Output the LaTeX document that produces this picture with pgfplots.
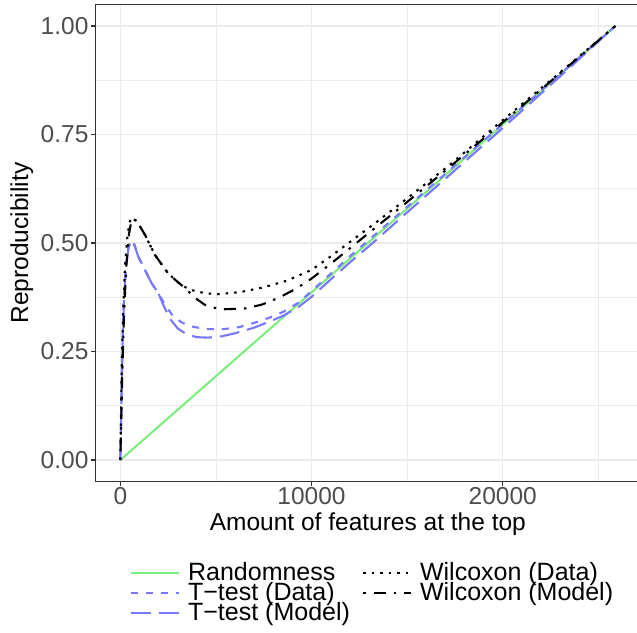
\documentclass[border=0pt]{standalone}
\usepackage{fontspec}
\setmainfont{Liberation Sans}
\usepackage{pgfplots}
\pgfplotsset{compat=1.18}
\definecolor{rgreen}{RGB}{119,238,119}
\definecolor{rblue}{RGB}{119,119,255}
\definecolor{gridc}{RGB}{235,235,235}
\definecolor{axc}{RGB}{51,51,51}
\definecolor{tickc}{RGB}{77,77,77}
\newcommand{\bigf}{\fontsize{24.5}{28}\selectfont}
\newcommand{\legf}{\fontsize{25}{28}\selectfont}
\begin{document}
\begin{tikzpicture}[x=1pt,y=1pt]
\begin{axis}[
  at={(95.6pt,150.3pt)}, anchor=south west,
  scale only axis, width=544.5pt, height=477.4pt,
  xmin=-1294.5, xmax=27184.5, ymin=-0.05, ymax=1.05,
  scaled x ticks=false, scaled y ticks=false,
  xtick={0,10000,20000}, xticklabels={0,10000,20000},
  minor xtick={5000,15000,25000},
  ytick={0,0.25,0.5,0.75,1}, yticklabels={0.00,0.25,0.50,0.75,1.00},
  minor ytick={0.125,0.375,0.625,0.875},
  grid=both,
  major grid style={gridc, line width=1.1pt},
  minor grid style={gridc, line width=0.55pt},
  axis line style={axc, line width=1.1pt},
  tick align=outside, major tick length=4.5pt, minor tick length=0pt,
  tick style={axc, line width=1.1pt},
  xtick pos=bottom, ytick pos=left,
  /pgf/number format/assume math mode=true,
  ticklabel style={font=\bigf, text=tickc, inner sep=0pt},
  yticklabel style={xshift=-2.5pt},
  xticklabel style={yshift=-0.8pt},
  xlabel={Amount of features at the top},
  ylabel={Reproducibility},
  label style={font=\bigf, text=black, inner sep=0pt},
  xlabel style={at={(axis description cs:0.5,-0.1012)}, anchor=base},
  ylabel style={at={(axis description cs:-0.1241,0.5)}, anchor=base, rotate=0},
  legend columns=2,
  legend cell align=left,
  legend style={at={(axis description cs:0.0632,-0.1745)}, anchor=north west,
    draw=none, fill=none, inner sep=0pt, outer sep=0pt, font=\legf,
    nodes={inner sep=0pt, text height=15pt, text depth=5pt},
    row sep=0pt,
    /tikz/every odd column/.append style={column sep=8pt},
    /tikz/every even column/.append style={column sep=12pt}},
  legend image code/.code={\draw[#1] (0pt,2.3pt) -- (48pt,2.3pt);},
]
% Randomness
\addplot[rgreen, line width=2pt, forget plot] coordinates {(0,0) (25890,1)};
% T-test (Data)
\addplot[rblue, line width=2.1pt, dash pattern=on 7pt off 8pt, forget plot] coordinates {
(0,0) (40,0.1) (80,0.2) (130,0.3) (200,0.39) (300,0.45) (420,0.49) (560,0.507)
(750,0.495) (950,0.468) (1300,0.437) (1650,0.407) (2000,0.383) (2300,0.36)
(2700,0.335) (3200,0.317) (3700,0.308) (4400,0.302) (5300,0.301) (6200,0.306)
(7000,0.316) (7800,0.328) (8500,0.341) (9300,0.362) (10000,0.389) (11000,0.429)
(12000,0.469) (14600,0.568) (17200,0.667) (20000,0.774) (23000,0.889) (25890,1)};
% T-test (Model)
\addplot[rblue, line width=2.1pt, dash pattern=on 20pt off 8pt, forget plot] coordinates {
(0,0) (40,0.09) (80,0.19) (130,0.29) (200,0.38) (300,0.445) (420,0.487) (560,0.505)
(750,0.493) (950,0.467) (1300,0.436) (1650,0.406) (2000,0.383) (2300,0.352)
(2600,0.325) (3000,0.303) (3500,0.289) (4000,0.283) (4600,0.282) (5300,0.285)
(6000,0.292) (7000,0.305) (7800,0.319) (8500,0.332) (9300,0.352) (10000,0.376)
(11000,0.416) (12000,0.455) (13300,0.504) (14600,0.555) (17200,0.656) (20000,0.765)
(23000,0.884) (25890,1)};
% Wilcoxon (Data)
\addplot[black, line width=2.1pt, dash pattern=on 2.5pt off 6pt, forget plot] coordinates {
(0,0) (40,0.12) (80,0.23) (150,0.35) (250,0.45) (380,0.52) (500,0.55) (620,0.559)
(800,0.552) (1000,0.54) (1300,0.518) (1800,0.473) (2500,0.43) (3000,0.41)
(3400,0.398) (3900,0.389) (4500,0.384) (5100,0.382) (6300,0.387) (7500,0.398)
(8700,0.413) (10000,0.438) (11000,0.469) (12000,0.502) (13300,0.545) (14600,0.589)
(17200,0.679) (20000,0.783) (23000,0.893) (25890,1)};
% Wilcoxon (Model)
\addplot[black, line width=2.1pt, dash pattern=on 2.5pt off 8pt on 12pt off 8pt, forget plot] coordinates {
(0,0) (50,0.1) (100,0.2) (180,0.32) (300,0.44) (450,0.52) (600,0.556)
(800,0.552) (1000,0.54) (1300,0.518) (1800,0.473) (2500,0.43) (3000,0.41)
(3400,0.396) (3900,0.374) (4400,0.358) (5200,0.347) (6500,0.349) (7400,0.358)
(8300,0.374) (9200,0.395) (10000,0.418) (11000,0.452) (12000,0.4875) (13300,0.534)
(14600,0.580) (17200,0.674) (20000,0.778) (23000,0.891) (25890,1)};
% legend (column-major order as in the reference)
\addlegendimage{rgreen, line width=2pt}
\addlegendentry{Randomness}
\addlegendimage{black, line width=2.1pt, dash pattern=on 2.5pt off 6pt}
\addlegendentry{Wilcoxon (Data)}
\addlegendimage{rblue, line width=2.1pt, dash pattern=on 7pt off 8pt}
\addlegendentry{T−test (Data)}
\addlegendimage{black, line width=2.1pt, dash pattern=on 2.5pt off 8pt on 12pt off 8pt}
\addlegendentry{Wilcoxon (Model)}
\addlegendimage{rblue, line width=2.1pt, dash pattern=on 20pt off 8pt}
\addlegendentry{T−test (Model)}
\end{axis}
\pgfresetboundingbox
\path[use as bounding box] (0,0) rectangle (637,632);
\end{tikzpicture}
\end{document}
